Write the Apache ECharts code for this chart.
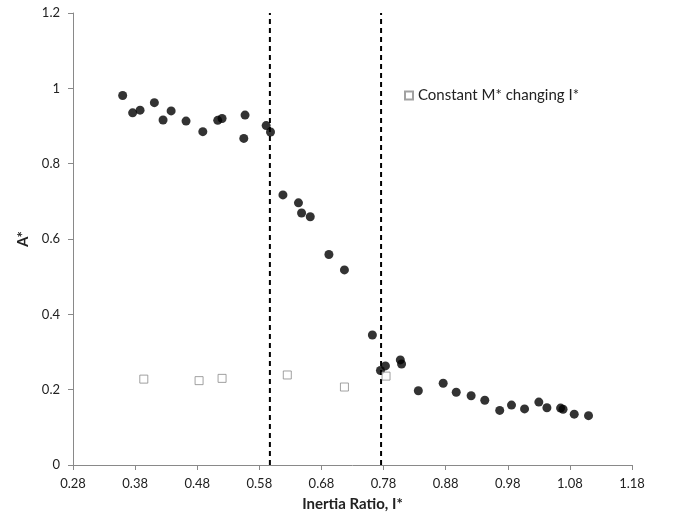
<!DOCTYPE html>
<html>
<head>
<meta charset="utf-8">
<script src="https://cdn.jsdelivr.net/npm/echarts@6/dist/echarts.min.js"></script>
<style>
html, body { margin: 0; padding: 0; background: #fff; }
#chart { width: 675px; height: 517px; }
</style>
</head>
<body>
<div id="chart"></div>
<script>
// 实测点 (I*, A*)
var circleX = [0.360, 0.376, 0.388, 0.411, 0.425, 0.438, 0.462, 0.489, 0.513, 0.520,
    0.557, 0.555, 0.591, 0.598, 0.618, 0.643, 0.648, 0.662, 0.692, 0.717,
    0.762, 0.775, 0.783, 0.807, 0.809, 0.836, 0.876, 0.897, 0.921, 0.943,
    0.967, 0.986, 1.007, 1.030, 1.043, 1.065, 1.069, 1.087, 1.110];
var circleY = [0.981, 0.935, 0.942, 0.962, 0.916, 0.940, 0.913, 0.885, 0.915, 0.920,
    0.929, 0.867, 0.901, 0.884, 0.717, 0.696, 0.669, 0.659, 0.559, 0.518,
    0.345, 0.251, 0.263, 0.279, 0.268, 0.197, 0.217, 0.193, 0.184, 0.172,
    0.145, 0.159, 0.149, 0.167, 0.152, 0.151, 0.148, 0.135, 0.131];
// Constant M* changing I*
var squareX = [0.394, 0.483, 0.520, 0.625, 0.717, 0.784];
var squareY = [0.228, 0.224, 0.230, 0.239, 0.207, 0.236];
// 虚线位置
var dashX = [0.597, 0.776];
var seriesName = 'Constant M* changing I*';

var font = 'Lato, "Open Sans", sans-serif';

function pairs(xs, ys) {
    var out = [];
    for (var i = 0; i < xs.length; i++) {
        out.push([xs[i], ys[i]]);
    }
    return out;
}

var series = [{
    name: 'data',
    type: 'scatter',
    symbol: 'circle',
    symbolSize: 9,
    itemStyle: { color: '#000' },
    data: pairs(circleX, circleY),
    z: 3
}, {
    name: seriesName,
    type: 'scatter',
    symbol: 'rect',
    symbolSize: 8,
    itemStyle: { color: '#fff', borderColor: '#8a8a8a', borderWidth: 1 },
    data: pairs(squareX, squareY),
    z: 3
}];
// 竖直虚线
dashX.forEach(function (v, i) {
    series.push({
        name: 'dash' + i,
        type: 'line',
        showSymbol: false,
        silent: true,
        z: 2,
        lineStyle: { color: '#000', type: [5, 4], width: 2 },
        data: [[v, 0], [v, 1.2]]
    });
});

var myChart = echarts.init(document.getElementById('chart'));
var option = {
    animation: false,
    backgroundColor: '#fff',
    textStyle: { fontFamily: font },
    grid: { left: 73, right: 43, top: 13, bottom: 52, containLabel: false },
    legend: {
        data: [seriesName],
        left: 399, top: 83,
        itemWidth: 8, itemHeight: 8, itemGap: 6,
        textStyle: { fontFamily: font, fontSize: 15, color: '#222' }
    },
    xAxis: {
        type: 'value',
        min: 0.28, max: 1.18, interval: 0.1,
        name: 'Inertia Ratio, I*',
        nameLocation: 'middle', nameGap: 32,
        nameTextStyle: { fontFamily: font, fontSize: 15, fontWeight: 'bold', color: '#222' },
        axisLine: { lineStyle: { color: '#898989' } },
        axisTick: { show: true, length: 5, lineStyle: { color: '#898989' } },
        axisLabel: {
            margin: 12, fontSize: 13, color: '#222',
            formatter: function (v) { return v.toFixed(2); }
        },
        splitLine: { show: false }
    },
    yAxis: {
        type: 'value',
        min: 0, max: 1.2, interval: 0.2,
        name: 'A*',
        nameLocation: 'middle', nameGap: 40,
        nameTextStyle: { fontFamily: font, fontSize: 15, fontWeight: 'bold', color: '#222' },
        axisLine: { show: true, lineStyle: { color: '#898989' } },
        axisTick: { show: true, length: 5, lineStyle: { color: '#898989' } },
        axisLabel: { margin: 13, fontSize: 13, color: '#222' },
        splitLine: { show: false }
    },
    series: series
};
myChart.setOption(option);
</script>
</body>
</html>
